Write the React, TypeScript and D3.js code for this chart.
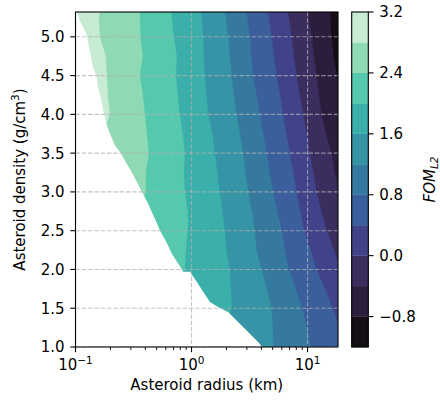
import React from 'react';
import * as d3 from 'd3';

// ---- data ----
// density grid (g/cm^3) at which each contour boundary's radius (km) was read
const densityGrid = [5.4, 5.25, 5.0, 4.75, 4.5, 4.25, 4.0, 3.75, 3.5, 3.25, 3.0, 2.75, 2.5, 2.25, 2.0, 1.75, 1.5, 1.25, 1.0];

const levels = [-1.2, -0.8, -0.4, 0.0, 0.4, 0.8, 1.2, 1.6, 2.0, 2.4, 2.8, 3.2];
const bandColors = ['#160e17', '#2c1d3c', '#3b2e5e', '#41438a', '#3a5f9c', '#36799f', '#3594a5', '#3bafaa', '#55c8ad', '#8fdab4', '#c8ebd4'];

const boundary28 = [0.1692, 0.1594, 0.1626, 0.1832, 0.1869, 0.1906, 0.1983, 0.1726, 0.1334, 0.1208, 0.1093, 0.1093, 0.1093, 0.1093, 0.1093, 0.1093, 0.1093, 0.1093, 0.1093];
const boundary24 = [0.3597, 0.3597, 0.3648, 0.3819, 0.3597, 0.3819, 0.3973, 0.4134, 0.4301, 0.4053, 0.4053, 0.3597, 0.295, 0.1626, 0.1626, 0.1626, 0.1626, 0.1626, 0.1626];
const boundary20 = [0.6658, 0.6791, 0.7067, 0.7499, 0.7354, 0.7648, 0.7959, 0.8447, 0.879, 0.8615, 0.879, 0.9328, 0.9328, 0.8965, 0.879, 0.6527, 0.5352, 0.4387, 0.4387];
const boundary16 = [1.207, 1.232, 1.264, 1.282, 1.307, 1.347, 1.401, 1.517, 1.594, 1.675, 1.761, 1.85, 1.945, 2.004, 2.147, 2.19, 2.234, 1.945, 1.761];
const boundary12 = [1.906, 1.984, 2.076, 2.147, 2.221, 2.325, 2.453, 2.619, 2.797, 2.921, 3.089, 3.324, 3.527, 3.634, 4.029, 4.476, 4.913, 5.042, 5.092];
const boundary08 = [2.921, 3.04, 3.194, 3.29, 3.41, 3.634, 3.895, 4.175, 4.449, 4.75, 5.072, 5.513, 6.029, 6.397, 6.927, 7.96, 8.965, 10.0, 10.72];
const boundary04 = [4.476, 4.657, 4.913, 5.143, 5.426, 5.794, 6.186, 6.592, 7.066, 7.572, 8.071, 8.703, 9.328, 10.72, 12.0, 14.16, 16.59, 19.06, 21.06];
const boundary00 = [6.657, 6.927, 7.307, 7.648, 8.071, 8.616, 9.2, 9.901, 10.51, 11.27, 12.0, 13.21, 14.73, 16.92, 19.45, 23.25, 28.36, 28.36, 28.36];
const boundaryM04 = [9.901, 10.3, 10.87, 11.38, 12.0, 12.57, 13.26, 14.44, 16.17, 17.26, 18.5, 21.06, 28.36, 28.36, 28.36, 28.36, 28.36, 28.36, 28.36];
const boundaryM08 = [15.32, 15.79, 16.17, 16.92, 17.85, 19.06, 21.06, 28.36, 28.36, 28.36, 28.36, 28.36, 28.36, 28.36, 28.36, 28.36, 28.36, 28.36, 28.36];

const boundaryLevels = [2.8, 2.4, 2.0, 1.6, 1.2, 0.8, 0.4, 0.0, -0.4, -0.8];
const boundaryRadii = [boundary28, boundary24, boundary20, boundary16, boundary12, boundary08, boundary04, boundary00, boundaryM04, boundaryM08];

// edge of the region with no data (white, lower left)
const maskDensity = [5.4, 5.32, 5.2, 5.1, 5.0, 4.8, 4.6, 4.5, 4.35, 4.2, 4.0, 3.85, 3.75, 3.6, 3.5, 3.4, 3.25, 3.1, 3.0, 2.85, 2.65, 2.5, 2.35, 2.2, 2.08, 2.0, 1.97, 1.97, 1.84, 1.71, 1.58, 1.515, 1.45, 1.32, 1.19, 1.06, 1.0];
const maskRadius = [0.101, 0.103, 0.1093, 0.1184, 0.1257, 0.1334, 0.1416, 0.1517, 0.1563, 0.1659, 0.1761, 0.1869, 0.1983, 0.219, 0.2466, 0.2672, 0.3069, 0.3457, 0.3744, 0.4217, 0.4846, 0.5352, 0.6088, 0.6791, 0.7648, 0.8282, 0.8447, 0.9707, 1.109, 1.264, 1.443, 1.692, 2.064, 2.532, 3.089, 3.766, 4.053];

const yTicks = [1.0, 1.5, 2.0, 2.5, 3.0, 3.5, 4.0, 4.5, 5.0];
const xMajorExps = [-1, 0, 1];
const cbTicks = [-0.8, 0.0, 0.8, 1.6, 2.4, 3.2];

const xDomain = [0.1, 18.3];
const yDomain = [1.0, 5.32];

const FONT = 'DejaVu Sans, sans-serif';

export default function App() {
  const L = 75.5, R = 338, T = 12, B = 347;
  const cbL = 351.7, cbR = 368.3;
  const fs = 15;

  const x = d3.scaleLog().domain(xDomain).range([L, R]);
  const y = d3.scaleLinear().domain(yDomain).range([B, T]);
  const cbY = d3.scaleLinear().domain([levels[0], levels[levels.length - 1]]).range([B, T]);
  const line = d3.line<[number, number]>().x(p => x(p[0])).y(p => y(p[1]));

  const bandPaths = boundaryLevels.map((lv, k) => {
    const r = boundaryRadii[k];
    const pts: [number, number][] = densityGrid.map((d, i) => [r[i], d]);
    pts.push([r[r.length - 1], 0.8], [200, 0.8], [200, 5.6], [r[0], 5.6]);
    const band = levels.indexOf(lv) - 1;
    return { d: line(pts) + 'Z', color: bandColors[band] };
  });

  const maskPts: [number, number][] = maskDensity.map((d, i) => [maskRadius[i], d]);
  maskPts.push([maskRadius[maskRadius.length - 1], 0.8], [0.05, 0.8], [0.05, 5.6], [maskRadius[0], 5.6]);
  const maskPath = line(maskPts) + 'Z';

  const allXTicks = x.ticks();
  const isMajor = (t: number) => Math.abs(Math.log10(t) - Math.round(Math.log10(t))) < 1e-9;
  const minorX = allXTicks.filter(t => !isMajor(t));
  const fmt = d3.format('.1f');
  const lab = (v: number) => fmt(v).replace('-', '\u2212');

  const gridStyle = { stroke: '#b0b0b0', strokeWidth: 1.1, strokeDasharray: '4.4,1.9', opacity: 0.75 };

  return (
    <svg width={440} height={401} style={{ position: 'absolute', left: 0, top: 0, background: '#fff' }} fontFamily={FONT}>
      <defs>
        <clipPath id="plotClip">
          <rect x={L} y={T} width={R - L} height={B - T} />
        </clipPath>
      </defs>
      <g clipPath="url(#plotClip)">
        <rect x={L} y={T} width={R - L} height={B - T} fill={bandColors[bandColors.length - 1]} />
        {bandPaths.map((b, i) => (
          <path key={i} d={b.d} fill={b.color} stroke={b.color} strokeWidth={0.3} />
        ))}
        <path d={maskPath} fill="#ffffff" />
        {yTicks.map(t => (
          <line key={'gy' + t} x1={L} x2={R} y1={y(t)} y2={y(t)} {...gridStyle} />
        ))}
        {xMajorExps.map(e => (
          <line key={'gx' + e} x1={x(Math.pow(10, e))} x2={x(Math.pow(10, e))} y1={T} y2={B} {...gridStyle} />
        ))}
      </g>
      {/* spines */}
      <rect x={L} y={T} width={R - L} height={B - T} fill="none" stroke="#000" strokeWidth={1.1} />
      {/* y ticks */}
      {yTicks.map(t => (
        <g key={'yt' + t}>
          <line x1={L - 5.2} x2={L} y1={y(t)} y2={y(t)} stroke="#000" strokeWidth={1.1} />
          <text x={L - 11} y={y(t)} dy="0.36em" textAnchor="end" fontSize={fs} fill="#000">{lab(t)}</text>
        </g>
      ))}
      {/* x ticks */}
      {xMajorExps.map(e => {
        const px = x(Math.pow(10, e));
        return (
          <g key={'xt' + e}>
            <line x1={px} x2={px} y1={B} y2={B + 5.2} stroke="#000" strokeWidth={1.1} />
            <text x={px} y={370} textAnchor="middle" fontSize={fs} fill="#000">
              10<tspan dy={-6.5} fontSize={fs * 0.7}>{e < 0 ? '\u2212' + Math.abs(e) : String(e)}</tspan>
            </text>
          </g>
        );
      })}
      {minorX.map(t => (
        <line key={'mx' + t} x1={x(t)} x2={x(t)} y1={B} y2={B + 3} stroke="#000" strokeWidth={0.9} />
      ))}
      {/* axis labels */}
      <text x={(L + R) / 2} y={390} textAnchor="middle" fontSize={fs} fill="#000">Asteroid radius (km)</text>
      <text transform={`translate(25,${(T + B) / 2}) rotate(-90)`} textAnchor="middle" fontSize={fs} fill="#000">
        Asteroid density (g/cm<tspan dy={-6} fontSize={fs * 0.7}>3</tspan><tspan dy={6}>)</tspan>
      </text>
      {/* colorbar */}
      {bandColors.map((c, i) => (
        <rect key={'cb' + i} x={cbL} width={cbR - cbL} y={cbY(levels[i + 1])} height={cbY(levels[i]) - cbY(levels[i + 1])} fill={c} stroke={c} strokeWidth={0.3} />
      ))}
      <rect x={cbL} y={T} width={cbR - cbL} height={B - T} fill="none" stroke="#000" strokeWidth={1.1} />
      {cbTicks.map(t => (
        <g key={'ct' + t}>
          <line x1={cbR} x2={cbR + 5.2} y1={cbY(t)} y2={cbY(t)} stroke="#000" strokeWidth={1.1} />
          <text x={cbR + 11} y={cbY(t)} dy="0.36em" fontSize={fs} fill="#000">{lab(t)}</text>
        </g>
      ))}
      <text transform={`translate(435,${(T + B) / 2}) rotate(-90)`} textAnchor="middle" fontSize={fs} fontStyle="italic" fill="#000">
        FOM<tspan dy={2.5} fontSize={fs * 0.7}>L2</tspan>
      </text>
    </svg>
  );
}
